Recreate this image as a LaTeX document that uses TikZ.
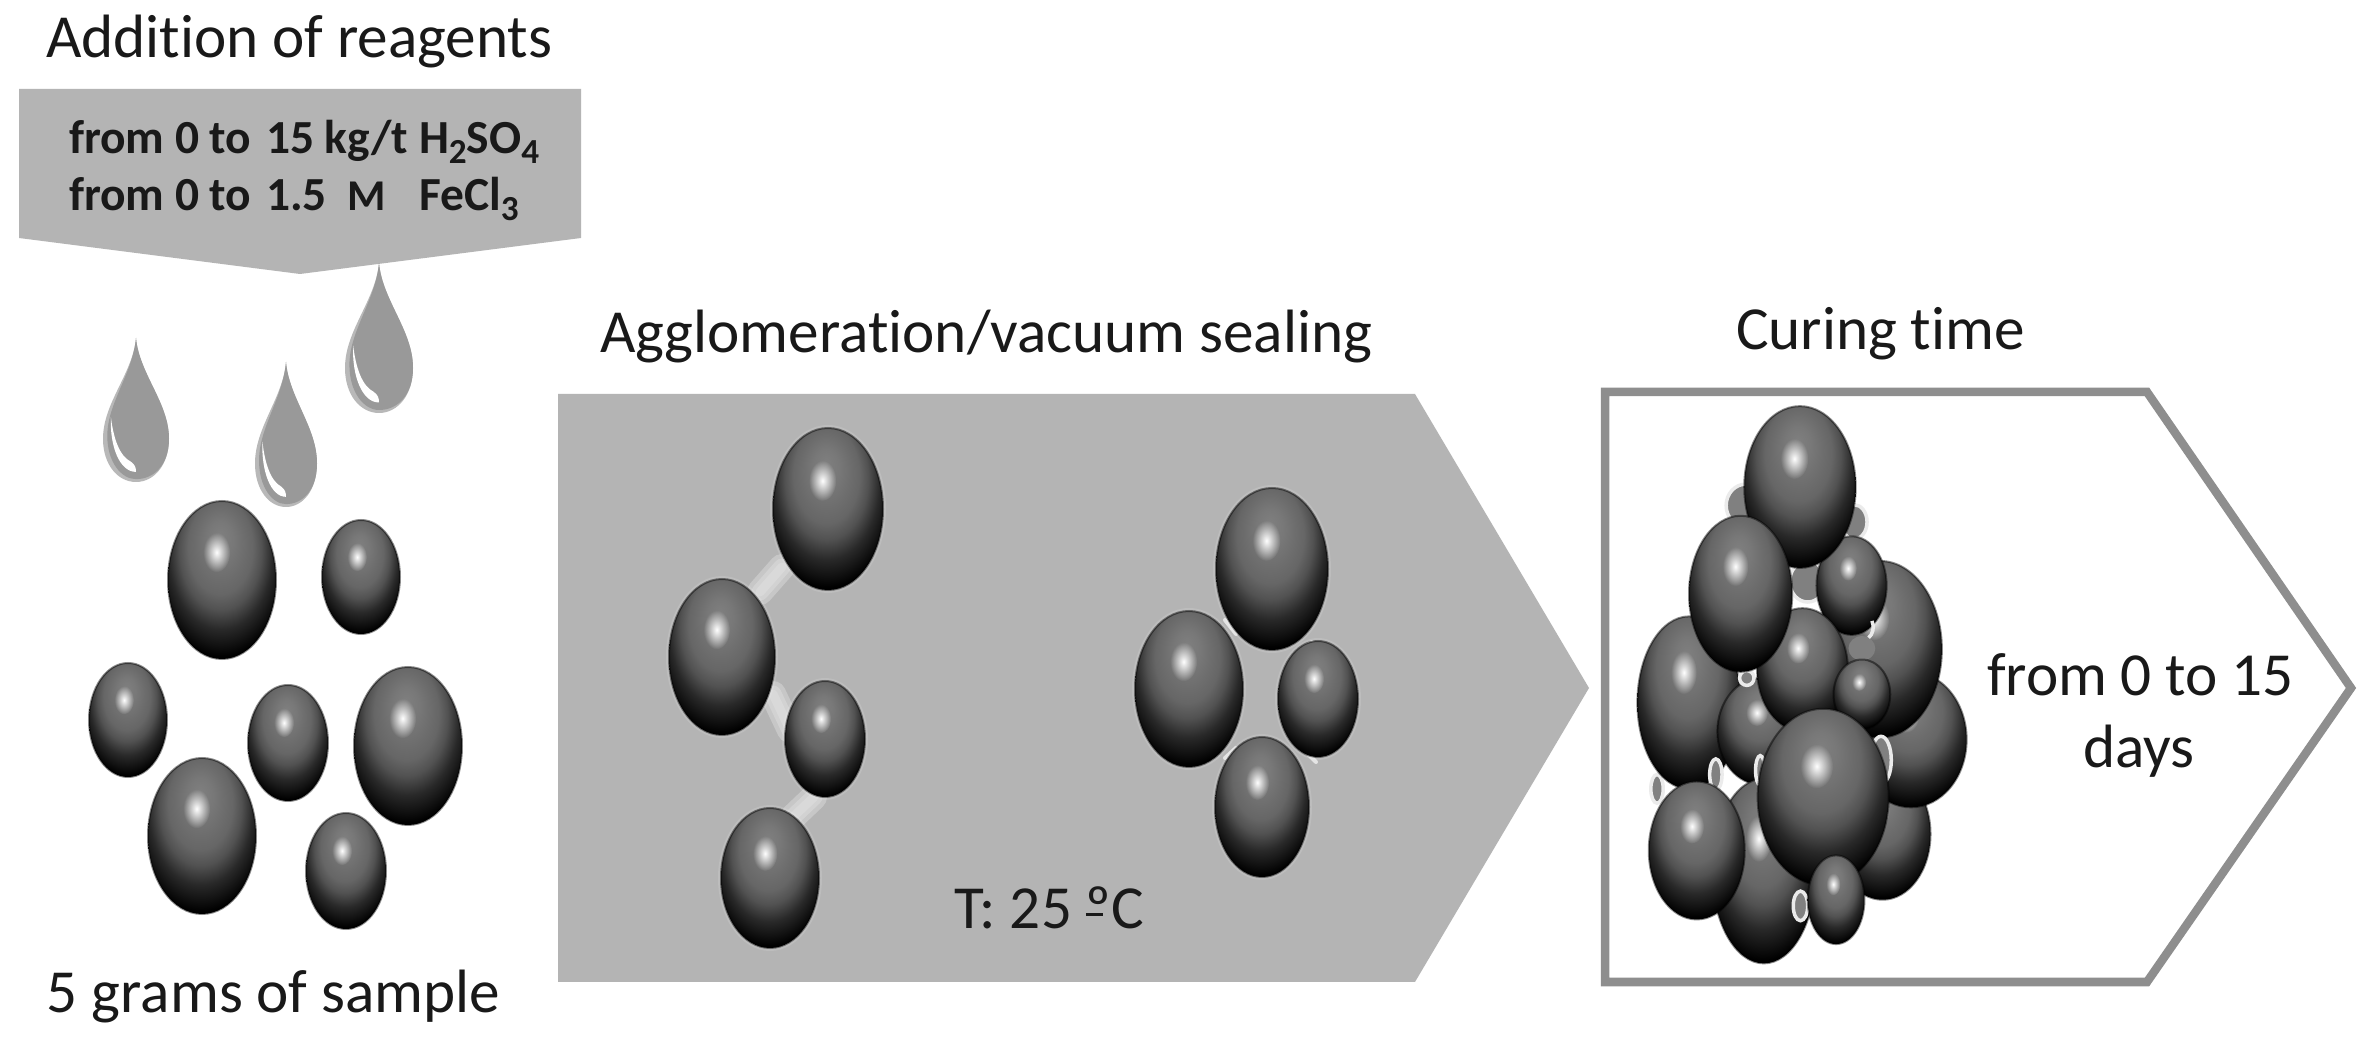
\documentclass[tikz,border=0pt]{standalone}
\usepackage{fontspec}
\usetikzlibrary{fadings}
\setmainfont[Ligatures=NoCommon]{Carlito}
\pgfdeclareradialshading{sph}{\pgfpoint{-1bp}{14bp}}{
  color(0bp)=(rgb:white,0.50;black,0.50);
  color(6bp)=(rgb:white,0.47;black,0.53);
  color(11bp)=(rgb:white,0.43;black,0.57);
  color(15bp)=(rgb:white,0.40;black,0.60);
  color(19bp)=(rgb:white,0.32;black,0.68);
  color(24bp)=(rgb:white,0.16;black,0.84);
  color(28bp)=(rgb:white,0.07;black,0.93);
  color(31bp)=(rgb:white,0;black,1);
  color(60bp)=(rgb:white,0;black,1)}
\tikzfading[name=spotfade,inner color=transparent!0,outer color=transparent!100]
\definecolor{panelgray}{HTML}{B4B4B4}
\definecolor{framegray}{HTML}{8E8E8E}
\definecolor{dropgray}{HTML}{999999}
\definecolor{bondgray}{HTML}{E4E4E4}
\tikzset{
  ball/.style={shading=sph},
  txt/.style={anchor=base west,inner sep=0pt,outer sep=0pt,font=\fontsize{17.4}{20}\selectfont,text=black!90},
  boldtxt/.style={anchor=base west,inner sep=0pt,outer sep=0pt,font=\fontsize{13.5}{16}\selectfont\bfseries,text=black!90},
  bond/.style={line width=#1,bondgray,line cap=round,opacity=.4},
  thinbond/.style={line width=.04cm,bondgray,line cap=round},
  ring/.style={draw=white!92!black,line width=.035cm,fill=black!50}
}
\newcommand{\lowsub}[1]{\raisebox{-.42ex}{\fontsize{10}{10}\selectfont #1}}
\newcommand{\spherexy}[4]{%
  \shade[ball] (#1,#2) ellipse [x radius=#3,y radius=#4];
  \draw[black,opacity=.45,line width=.02cm] (#1,#2) ellipse [x radius=#3,y radius=#4];
  \fill[white,path fading=spotfade] ({#1-.1*#3},{#2-.35*#4}) ellipse [x radius={.25*#3},y radius={.25*#4}];}
\newcommand{\glowsphere}[4]{%
  \fill[white,opacity=.12] (#1,#2) ellipse [x radius=#3+3,y radius=#4+3];
  \spherexy{#1}{#2}{#3}{#4}}
\newcommand{\softbond}[2]{%
  \draw[bond=.26cm] #1 -- #2;
  \draw[bond=.17cm] #1 -- #2;
  \draw[bond=.09cm] #1 -- #2;}
\newcommand{\droplet}[4]{%
  \begin{scope}[shift={(#1,#2)},x=#3*0.01cm,y=-#4*0.01cm]
    \fill[black!28] (0,0) .. controls (0.1,0.25) and (1,0.45) .. (1,0.7)
      .. controls (1,0.88) and (0.55,1) .. (0,1)
      .. controls (-0.55,1) and (-1,0.88) .. (-1,0.7)
      .. controls (-1,0.45) and (-0.1,0.25) .. (0,0) -- cycle;
    \fill[dropgray] (0,0) .. controls (0.1,0.25) and (1,0.45) .. (1,0.7)
      .. controls (1,0.88) and (0.55,0.98) .. (0,0.98)
      .. controls (-0.45,0.98) and (-0.87,0.86) .. (-0.87,0.68)
      .. controls (-0.87,0.45) and (-0.1,0.25) .. (0,0) -- cycle;
    \fill[white] (-0.76,0.55) .. controls (-0.8,0.75) and (-0.5,0.93) .. (0,0.93)
      .. controls (0,0.9) and (-0.03,0.88) .. (-0.15,0.86)
      .. controls (-0.5,0.82) and (-0.68,0.7) .. (-0.76,0.55) -- cycle;
  \end{scope}}
\begin{document}
\begin{tikzpicture}[x=0.01cm,y=-0.01cm]
\useasboundingbox[fill=white] (0,0) rectangle (2368,1040);

% reagent banner
\fill[panelgray] (19,89) -- (581,89) -- (581,238) -- (300,274) -- (19,238) -- cycle;
\droplet{379}{263}{34}{150}
\droplet{136}{338}{33}{144}
\droplet{286}{362}{31}{145}

% titles
\node[txt] (t1) at (46,58) {Addition of reagents};
\node[boldtxt] (r1) at (69,154) {from 0 to};
\node[boldtxt] (r2) at (266,154) {15 kg/t};
\node[boldtxt] (r3) at (419,154) {H\lowsub{2}SO\lowsub{4}};
\node[boldtxt] (r4) at (69,211) {from 0 to};
\node[boldtxt] (r5) at (266,211) {1.5};
\node[boldtxt,font=\fontsize{12.5}{14}\selectfont\bfseries] (r6) at (347,211) {M};
\node[boldtxt] (r7) at (419,211) {FeCl\lowsub{3}};
\node[txt] (t2) at (47,1012) {5 grams of sample};
\node[txt] (t3) at (600,353) {Agglomeration/vacuum sealing};
\node[txt] (t4) at (1736,350) {Curing time};

% left loose particles
\spherexy{222}{580}{54}{79}
\spherexy{361}{577}{39}{57}
\spherexy{128}{720}{39}{57}
\spherexy{288}{743}{40}{58}
\spherexy{408}{746}{54}{79}
\spherexy{202}{836}{54}{78}
\spherexy{346}{871}{40}{58}

% agglomeration panel
\fill[panelgray] (558,394) -- (1415,394) -- (1589,688) -- (1415,982) -- (558,982) -- cycle;
\softbond{(782,567)}{(760,592)}
\softbond{(773,694)}{(790,730)}
\softbond{(814,797)}{(793,817)}
\draw[thinbond] (1225,620) -- (1236,634);
\draw[thinbond] (1300,650) -- (1312,642);
\draw[thinbond] (1225,758) -- (1236,748);
\draw[thinbond] (1306,752) -- (1316,762);
\glowsphere{828}{509}{55}{81}
\glowsphere{722}{657}{53}{78}
\glowsphere{825}{739}{40}{58}
\glowsphere{770}{878}{49}{70}
\glowsphere{1272}{569}{56}{81}
\glowsphere{1189}{689}{54}{78}
\glowsphere{1318}{699}{40}{58}
\glowsphere{1262}{807}{47}{70}
\node[txt] (t5) at (954,929) {T: 25 \rlap{\rule[0.22em]{0.28em}{0.045em}}ºC};

% curing frame
\draw[framegray,line width=.085cm,line join=miter] (1605,392) -- (2147,392) -- (2351,688) -- (2147,982) -- (1605,982) -- cycle;
\node[txt] (t6) at (1987,696) {from 0 to 15};
\node[txt] (t7) at (2083,768) {days};

% cluster, in zoomed coordinates
\begin{scope}[shift={(1560,370)},x=0.00515cm,y=-0.0041cm]
  \draw[ring] (360,330) ellipse [x radius=38,y radius=52];
  \draw[ring] (570,370) ellipse [x radius=25,y radius=42];
  \draw[ring] (480,515) ellipse [x radius=35,y radius=50];
  \spherexy{625}{1130}{93}{160}
  \spherexy{680}{900}{108}{165}
  \spherexy{620}{680}{120}{215}
  \spherexy{565}{525}{68}{120}
  \fill[black!50] (585,678) ellipse [x radius=26,y radius=30];
  \draw[white!92!black,line width=.035cm] (598,652) arc [start angle=60,end angle=-30,x radius=18,y radius=30];
  \draw[ring] (622,950) ellipse [x radius=20,y radius=58];
  \draw[ring] (188,1020) ellipse [x radius=12,y radius=35];
  \spherexy{250}{810}{100}{210}
  \spherexy{390}{880}{85}{130}
  \draw[ring] (302,985) ellipse [x radius=12,y radius=38];
  \draw[ring] (362,750) ellipse [x radius=14,y radius=18];
  \spherexy{395}{1220}{100}{225}
  \draw[ring] (466,1305) ellipse [x radius=14,y radius=36];
  \spherexy{470}{730}{88}{150}
  \spherexy{585}{790}{55}{85}
  \draw[ring] (388,975) ellipse [x radius=9,y radius=36];
  \spherexy{510}{1040}{127}{215}
  \spherexy{465}{285}{108}{197}
  \spherexy{350}{545}{100}{190}
  \spherexy{265}{1170}{93}{168}
  \spherexy{535}{1290}{55}{108}
\end{scope}
\end{tikzpicture}
\end{document}
